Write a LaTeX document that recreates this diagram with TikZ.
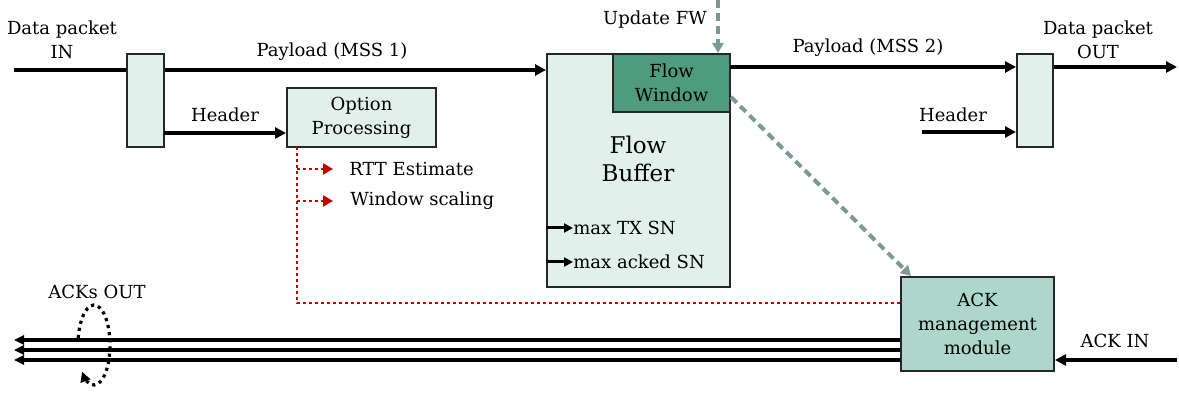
\documentclass[tikz,border=0pt]{standalone}
\usepackage{fontspec}
\setmainfont{DejaVu Serif}
\usetikzlibrary{arrows.meta}
\definecolor{boxlight}{HTML}{E2F0EB}
\definecolor{fwgreen}{HTML}{4E9B80}
\definecolor{ackgreen}{HTML}{ADD7CB}
\definecolor{optred}{HTML}{C00000}
\definecolor{fwgray}{HTML}{7D9997}
\begin{document}
\begin{tikzpicture}[x=0.5pt,y=-0.5pt,
    font=\fontsize{9}{12}\selectfont,
    box/.style={draw=black!85,line width=1pt,fill=boxlight,inner sep=0pt,align=center},
    lbl/.style={inner sep=0pt,align=center},
    flow/.style={line width=1.9pt,-{Triangle[length=5.5pt,width=5.5pt]}},
    optline/.style={optred,line width=1.4pt,dash pattern=on 1.4pt off 1.6pt},
    updline/.style={fwgray,line width=2pt,dash pattern=on 4pt off 2.5pt,-{Triangle[length=5pt,width=5.5pt]}}]
  \useasboundingbox (0,0) rectangle (1179,394);
  \draw
    (145.5,100.5) node[box,minimum width=18.5pt,minimum height=46.5pt] (inbox){}
    (361.5,117.5) node[box,minimum width=74.5pt,minimum height=29.5pt] (opt){Option\\Processing}
    (638.5,170.5) node[box,minimum width=91.5pt,minimum height=116.5pt] (buf){}
    (671.5,83) node[box,fill=fwgreen,minimum width=58.5pt,minimum height=29pt] (fw){Flow\\Window}
    (1035,100.5) node[box,minimum width=18pt,minimum height=46.5pt] (outbox){}
    (977.5,324) node[box,fill=ackgreen,minimum width=76.5pt,minimum height=47pt] (ack){ACK\\management\\module};
  \draw
    (638,159) node[lbl,font=\fontsize{11.5}{14}\selectfont] (buftxt){Flow\\Buffer}
    (62,40) node[lbl] (datain){Data packet\\IN}
    (332,52) node[lbl] (pay1){Payload (MSS 1)}
    (225,115) node[lbl] (hdr1){Header}
    (349,169) node[lbl,anchor=west] (rtt){RTT Estimate}
    (350,201) node[lbl,anchor=west] (wsc){Window scaling}
    (655,20) node[lbl] (upd){Update FW}
    (573,228) node[lbl,anchor=west] (txsn){max TX SN}
    (573,262) node[lbl,anchor=west] (ackedsn){max acked SN}
    (868,48) node[lbl] (pay2){Payload (MSS 2)}
    (1098,40) node[lbl] (dataout){Data packet\\OUT}
    (953,115) node[lbl] (hdr2){Header}
    (97,292) node[lbl] (acksout){ACKs OUT}
    (1115,341) node[lbl] (ackintxt){ACK IN};
  \coordinate (in) at (14,70);
  \coordinate (h1) at (164,133);
  \coordinate (p2) at (730,67);
  \coordinate (out) at (1177,67);
  \coordinate (h2) at (922,132);
  \coordinate (ackin) at (1177,360);
  \coordinate (updtop) at (718,0);
  \begin{scope}[flow]
    \draw[-] (in) -- (in -| inbox.west);
    \draw (in -| inbox.east) -- (in -| buf.west);
    \draw (h1) -- (h1 -| opt.west);
    \draw (p2) -- (p2 -| outbox.west);
    \draw (p2 -| outbox.east) -- (out);
    \draw (h2) -- (h2 -| outbox.west);
    \draw (ackin) -- (ackin -| ack.east);
    \foreach \y in {340,350,360}
      \draw[-{Triangle[length=5pt,width=4.6pt]}] (ack.west |- 0,\y) -- (14,\y);
    \draw[line width=1.5pt,-{Triangle[length=4.5pt,width=4.5pt]}] (buf.west |- txsn.west) -- (txsn.west);
    \draw[line width=1.5pt,-{Triangle[length=4.5pt,width=4.5pt]}] (buf.west |- ackedsn.west) -- (ackedsn.west);
    \draw[line width=1.6pt,dash pattern=on 1.6pt off 2pt,-{Triangle[length=5pt,width=5pt]}]
      (94,345) ++(190:16 and 40) arc[start angle=190,end angle=498,x radius=16,y radius=40];
  \end{scope}
  % option processing outputs
  \draw[optline] (297,147) |- (ack.west |- 0,303);
  \draw[optline,-{Triangle[length=5pt,width=5.5pt]}] (297,0 |- rtt.west) -- ++(36,0);
  \draw[optline,-{Triangle[length=5pt,width=5.5pt]}] (297,0 |- wsc.west) -- ++(36,0);
  % flow window update
  \draw[updline] (updtop) -- (updtop |- fw.north);
  \draw[updline] (fw.east |- 0,97) -- ([xshift=5.5pt]ack.north west);
\end{tikzpicture}
\end{document}
